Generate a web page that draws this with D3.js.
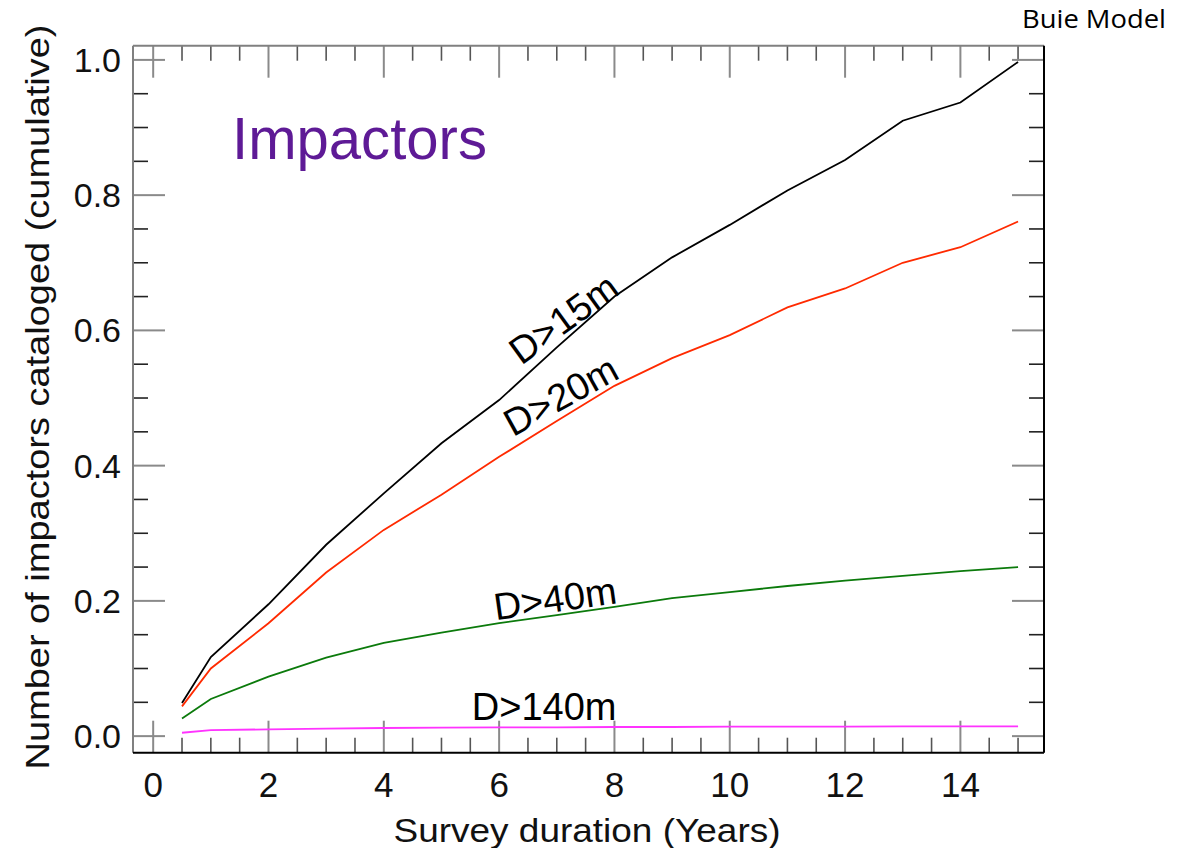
<!DOCTYPE html>
<html>
<head>
<meta charset="utf-8">
<script src="https://cdn.jsdelivr.net/npm/d3@7"></script>
<style>
  body { margin: 0; background: #fff; }
  text { font-family: "Liberation Sans", Arial, sans-serif; }
</style>
</head>
<body>
<script>
// survey duration in years
var years = [0.5, 1, 2, 3, 4, 5, 6, 7, 8, 9, 10, 11, 12, 13, 14, 15];

// fraction of impactors cataloged, cumulative
var d15  = [0.049, 0.117, 0.195, 0.283, 0.359, 0.433, 0.497, 0.575, 0.650, 0.708, 0.756, 0.807, 0.852, 0.910, 0.937, 0.997];
var d20  = [0.044, 0.100, 0.167, 0.242, 0.305, 0.357, 0.413, 0.466, 0.518, 0.559, 0.593, 0.634, 0.662, 0.700, 0.723, 0.761];
var d40  = [0.026, 0.055, 0.088, 0.116, 0.138, 0.153, 0.167, 0.179, 0.191, 0.204, 0.213, 0.222, 0.230, 0.237, 0.244, 0.250];
var d140 = [0.005, 0.009, 0.010, 0.011, 0.012, 0.0125, 0.013, 0.013, 0.0135, 0.0135, 0.014, 0.014, 0.014, 0.0145, 0.0145, 0.0145];

var seriesNames  = ["D>15m", "D>20m", "D>40m", "D>140m"];
var seriesColors = ["#000000", "#ff2a00", "#0b7a0b", "#ff33ff"];

// label anchors in data units: [year, fraction, angle]
var labelPos = [[7.12, 0.617, -36], [7.07, 0.503, -29], [6.97, 0.203, -8], [6.78, 0.043, 0]];

var xMajor = [0, 2, 4, 6, 8, 10, 12, 14];
var yMajor = [0.0, 0.2, 0.4, 0.6, 0.8, 1.0];

var W = 1182, H = 848;
var pLeft = 133, pRight = 1044, pTop = 45.7, pBottom = 752.7;

var svg = d3.select("body").append("svg")
	.attr("width", W)
	.attr("height", H);

var x = d3.scaleLinear().domain([-0.35, 15.45]).range([pLeft, pRight]);
var y = d3.scaleLinear().domain([-0.0245, 1.021]).range([pBottom, pTop]);

var xMinor = d3.range(0, 15.01, 0.5).filter(function (d) { return xMajor.indexOf(d) < 0; });
var yMinor = d3.range(0, 1.001, 0.05).filter(function (d) {
	return !yMajor.some(function (m) { return Math.abs(m - d) < 1e-6; });
});

var majLen = 32, minLen = 15;

function tickLines(g, vals, len, color, sw, orient) {
	g.selectAll(null).data(vals).enter().append("line")
		.attr("x1", function (d) { return orient == "h" ? pLeft : x(d); })
		.attr("x2", function (d) { return orient == "h" ? pLeft + len : x(d); })
		.attr("y1", function (d) { return orient == "h" ? y(d) : pBottom; })
		.attr("y2", function (d) { return orient == "h" ? y(d) : pBottom - len; })
		.attr("stroke", color).attr("stroke-width", sw);
	g.selectAll(null).data(vals).enter().append("line")
		.attr("x1", function (d) { return orient == "h" ? pRight : x(d); })
		.attr("x2", function (d) { return orient == "h" ? pRight - len : x(d); })
		.attr("y1", function (d) { return orient == "h" ? y(d) : pTop; })
		.attr("y2", function (d) { return orient == "h" ? y(d) : pTop + len; })
		.attr("stroke", color).attr("stroke-width", sw);
}

var ticks = svg.append("g").attr("class", "ticks");
tickLines(ticks, xMinor, minLen, "#555", 1.6, "v");
tickLines(ticks, yMinor, minLen, "#222", 1.6, "h");
tickLines(ticks, xMajor, majLen, "#8a8a8a", 2, "v");
tickLines(ticks, yMajor, majLen, "#8a8a8a", 2, "h");

// frame
svg.append("line").attr("x1", pLeft).attr("x2", pLeft).attr("y1", pTop).attr("y2", pBottom)
	.attr("stroke", "#808080").attr("stroke-width", 2);
svg.append("line").attr("x1", pLeft).attr("x2", pRight).attr("y1", pTop).attr("y2", pTop)
	.attr("stroke", "#808080").attr("stroke-width", 2);
svg.append("line").attr("x1", pRight).attr("x2", pRight).attr("y1", pTop).attr("y2", pBottom)
	.attr("stroke", "#000").attr("stroke-width", 2);
svg.append("line").attr("x1", pLeft).attr("x2", pRight).attr("y1", pBottom).attr("y2", pBottom)
	.attr("stroke", "#000").attr("stroke-width", 2);

// tick labels
svg.selectAll(".xlab").data(xMajor).enter().append("text")
	.attr("class", "xlab")
	.attr("x", function (d) { return x(d); })
	.attr("y", 797)
	.attr("text-anchor", "middle")
	.style("font-size", "35px")
	.attr("fill", "#111")
	.text(function (d) { return d; });

svg.selectAll(".ylab").data(yMajor).enter().append("text")
	.attr("class", "ylab")
	.attr("x", 121)
	.attr("y", function (d) { return y(d) + 12; })
	.attr("text-anchor", "end")
	.style("font-size", "34px")
	.attr("fill", "#111")
	.text(function (d) { return d.toFixed(1); });

// axis titles
svg.append("text")
	.attr("x", 587).attr("y", 842)
	.attr("text-anchor", "middle")
	.attr("textLength", 387).attr("lengthAdjust", "spacingAndGlyphs")
	.style("font-size", "34px")
	.attr("fill", "#111")
	.text("Survey duration (Years)");

svg.append("text")
	.attr("transform", "translate(49,397) rotate(-90)")
	.attr("text-anchor", "middle")
	.attr("textLength", 745).attr("lengthAdjust", "spacingAndGlyphs")
	.style("font-size", "34px")
	.attr("fill", "#111")
	.text("Number of impactors cataloged (cumulative)");

// lines
var line = d3.line()
	.x(function (d) { return x(d[0]); })
	.y(function (d) { return y(d[1]); });

var allSeries = [d15, d20, d40, d140];
allSeries.forEach(function (vals, i) {
	svg.append("path")
		.datum(years.map(function (t, j) { return [t, vals[j]]; }))
		.attr("fill", "none")
		.attr("stroke", seriesColors[i])
		.attr("stroke-width", 1.8)
		.attr("d", line);
});

// curve labels
labelPos.forEach(function (p, i) {
	svg.append("text")
		.attr("transform", "translate(" + x(p[0]) + "," + y(p[1]) + ") rotate(" + p[2] + ")")
		.attr("text-anchor", "middle")
		.attr("dominant-baseline", "central")
		.style("font-size", "38px")
		.attr("fill", "#000")
		.text(seriesNames[i]);
});

svg.append("text")
	.attr("x", 232).attr("y", 159)
	.attr("textLength", 255).attr("lengthAdjust", "spacingAndGlyphs")
	.style("font-size", "59px")
	.attr("fill", "#5e1a96")
	.text("Impactors");

svg.append("text")
	.attr("x", 1022).attr("y", 28)
	.attr("textLength", 144).attr("lengthAdjust", "spacingAndGlyphs")
	.style("font-family", "'Open Sans', 'Noto Sans', sans-serif")
	.style("font-size", "25px")
	.attr("fill", "#000")
	.text("Buie Model");
</script>
</body>
</html>
